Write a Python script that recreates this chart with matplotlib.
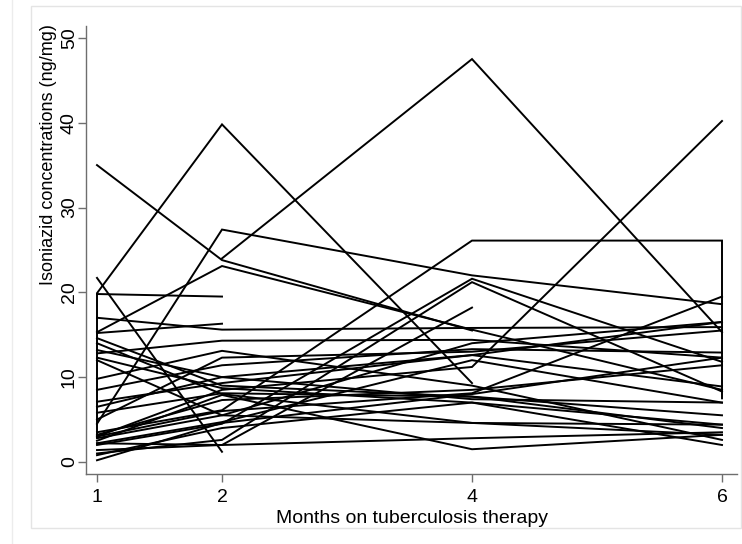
import numpy as np
import matplotlib.pyplot as plt
from matplotlib.patches import Rectangle

plt.rcParams["font.family"] = ["Liberation Sans", "DejaVu Sans"]

months = [1, 2, 4, 6]

# isoniazid hair concentration per patient at each visit (nan = not measured)
conc_m1 = [35.0, np.nan, 19.9, 19.8, 21.7, 4.5, 3.5, 3.0, 15.3, 17.0,
           15.2, 2.0, 1.0, 2.2, 3.0, 14.6, 13.2, 12.8, 12.3, 8.5,
           7.1, 5.8, 3.2, 2.8, 2.2, 1.4, 0.8, 0.2, 9.8, 14.0,
           5.0, 2.5, 6.5, 12.0]
conc_m2 = [23.8, 24.0, 39.8, 19.5, 1.2, 27.4, 6.1, 8.5, 23.1, 15.6,
           16.3, 4.5, 2.6, 2.0, 6.0, 9.0, 10.0, 14.3, 8.7, 11.4,
           9.3, 8.1, 7.3, 5.5, 4.7, 2.0, 4.0, 4.6, 13.1, 8.0,
           12.3, 7.9, 10.0, 5.5]
conc_m4 = [15.5, 47.5, 9.3, np.nan, np.nan, 22.0, 26.1, 11.2, 15.6, 15.8,
           np.nan, 21.6, 21.2, 18.2, 8.1, 7.7, 12.6, 14.4, 7.0, 13.3,
           12.6, 7.7, 8.5, 14.0, 12.0, 2.8, 7.0, 8.0, 9.0, 4.6,
           13.0, 1.5, 7.4, 4.6]
conc_m6 = [np.nan, 15.3, np.nan, np.nan, np.nan, 18.6, 26.1, 40.2, 8.5, 15.9,
           np.nan, 11.8, 8.3, np.nan, 19.5, 4.0, 8.9, 12.3, 2.0, 12.9,
           16.5, 5.5, 11.4, 16.5, 7.0, 3.5, 4.4, 12.3, 2.6, 4.4,
           15.5, 3.2, 7.0, 3.2]
# repeat measurements recorded at the same visit
repeat_m1 = {2: 2.9}   # drawn before the month-1 value
repeat_m6 = {6: 7.5}   # drawn after the month-6 value

W, H = 742, 544
fig = plt.figure(figsize=(W / 100, H / 100), dpi=100)

# light graph-region frame
fig.add_artist(Rectangle((31 / W, 1 - 528 / H), (741 - 31) / W, (528 - 6) / H,
                         transform=fig.transFigure, fill=False,
                         edgecolor="#e4e4e4", lw=1.0))
fig.add_artist(plt.Line2D([12 / W, 12 / W], [0, 1], transform=fig.transFigure,
                          color="#ececec", lw=1.0))

ax = fig.add_axes([86 / W, 1 - 474 / H, (737 - 86) / W, (474 - 26) / H])

for i in range(len(conc_m1)):
    xs, ys = [], []
    if i in repeat_m1:
        xs.append(1)
        ys.append(repeat_m1[i])
    for m, arr in zip(months, [conc_m1, conc_m2, conc_m4, conc_m6]):
        if not np.isnan(arr[i]):
            xs.append(m)
            ys.append(arr[i])
    if i in repeat_m6:
        xs.append(6)
        ys.append(repeat_m6[i])
    ax.plot(xs, ys, color="black", lw=1.4, solid_joinstyle="miter")

ax.set_xlim(0.912, 6.12)
ax.set_ylim(-1.42, 51.4)
ax.set_xticks(months)
ax.set_yticks([0, 10, 20, 30, 40, 50])
for side in ["top", "right"]:
    ax.spines[side].set_visible(False)
for side in ["left", "bottom"]:
    ax.spines[side].set_color("#6e6e6e")
    ax.spines[side].set_linewidth(1.0)
ax.tick_params(direction="out", length=5.8, width=1.0, color="#6e6e6e",
               labelsize=14)
ax.tick_params(axis="x", pad=5)
ax.tick_params(axis="y", pad=0)
for lab in ax.get_yticklabels():
    lab.set_rotation(90)
    lab.set_va("center")

ax.set_xlabel("Months on tuberculosis therapy", fontsize=14, labelpad=3)
ax.set_ylabel("Isoniazid concentrations (ng/mg)", fontsize=13)
ax.yaxis.set_label_coords(-0.044, 0.712)

fig.savefig("out.png", dpi=100)
